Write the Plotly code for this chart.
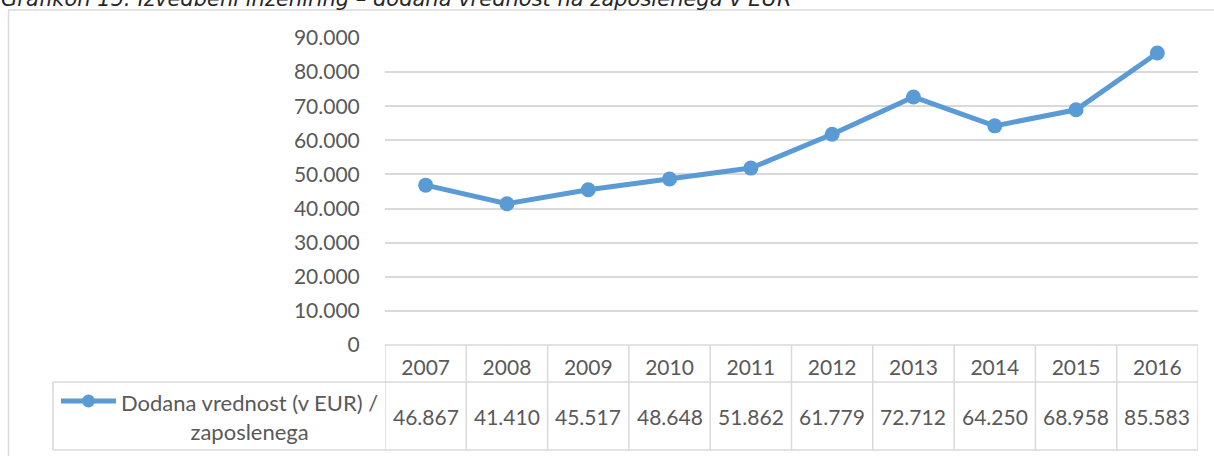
import plotly.graph_objects as go

years = ["2007", "2008", "2009", "2010", "2011", "2012", "2013", "2014", "2015", "2016"]
values = [46867, 41410, 45517, 48648, 51862, 61779, 72712, 64250, 68958, 85583]
series_name = "Dodana vrednost (v EUR) /<br>zaposlenega"
title_text = "Grafikon 15: Izvedbeni inženiring – dodana vrednost na zaposlenega v EUR"
y_ticks = [0, 10000, 20000, 30000, 40000, 50000, 60000, 70000, 80000, 90000]

W, H = 1214, 456
L, R, T, B = 385, 16, 38, 111
PW, PH = W - L - R, H - T - B

BLUE = "#5B9BD5"
TXT = "#595959"
GRID = "#D9D9D9"
FONT = "Lato"
FS = 21


def fmt(v):
    return f"{v:,}".replace(",", ".")


def px_x(p):
    return (p - L) / PW


def px_y(p):
    return (H - B - p) / PH


fig = go.Figure()
fig.add_trace(go.Scatter(
    x=years, y=values, mode="lines+markers", name=series_name,
    line=dict(color=BLUE, width=5),
    marker=dict(color=BLUE, size=15),
    showlegend=False, cliponaxis=False,
))

shapes = []
# table lines
row1 = px_y(382)
row2 = px_y(450)
for i in range(len(years) + 1):
    shapes.append(dict(type="line", xref="x", yref="paper", x0=i - 0.5, x1=i - 0.5,
                       y0=0, y1=row2, line=dict(color=GRID, width=1.5)))
shapes.append(dict(type="line", xref="paper", yref="paper", x0=0, x1=1, y0=0, y1=0,
                   line=dict(color=GRID, width=1.5)))
for yy in (row1, row2):
    shapes.append(dict(type="line", xref="paper", yref="paper", x0=px_x(53), x1=1, y0=yy, y1=yy,
                       line=dict(color=GRID, width=1.5)))
shapes.append(dict(type="line", xref="paper", yref="paper", x0=px_x(53), x1=px_x(53), y0=row1, y1=row2,
                   line=dict(color=GRID, width=1.5)))
# outer frame
shapes.append(dict(type="path", xref="paper", yref="paper",
                   path=f"M {px_x(8.5)} {px_y(470)} L {px_x(8.5)} {px_y(10)} L {px_x(1230)} {px_y(10)}",
                   line=dict(color=GRID, width=1.5)))
# legend key
shapes.append(dict(type="line", xref="paper", yref="paper", x0=px_x(61), x1=px_x(116),
                   y0=px_y(401), y1=px_y(401), line=dict(color=BLUE, width=5)))
shapes.append(dict(type="circle", xref="paper", yref="paper", x0=px_x(82), x1=px_x(95),
                   y0=px_y(394.5), y1=px_y(407.5), fillcolor=BLUE, line=dict(color=BLUE, width=0)))

annotations = []
for i, v in enumerate(values):
    annotations.append(dict(x=i, xref="x", y=px_y(416), yref="paper", text=fmt(v),
                            showarrow=False, font=dict(family=FONT, size=FS, color=TXT),
                            xanchor="center", yanchor="middle"))
annotations.append(dict(x=px_x(249), xref="paper", y=px_y(417), yref="paper", text=series_name,
                        showarrow=False, align="center", font=dict(family=FONT, size=22, color=TXT),
                        xanchor="center", yanchor="middle"))
annotations.append(dict(x=px_x(-1), xref="paper", y=px_y(-0.5), yref="paper", text=f"<i>{title_text}</i>",
                        showarrow=False, font=dict(family="DejaVu Sans", size=21, color="#262626"),
                        xanchor="left", yanchor="middle"))

fig.update_layout(
    width=W, height=H,
    margin=dict(l=L, r=R, t=T, b=B, autoexpand=False),
    paper_bgcolor="white", plot_bgcolor="white",
    separators=",.",
    font=dict(family=FONT, size=FS, color=TXT),
    shapes=shapes, annotations=annotations,
    xaxis=dict(type="category", range=[-0.5, len(years) - 0.5], showgrid=False, zeroline=False,
               showline=False, ticks="outside", ticklen=4, tickcolor="rgba(0,0,0,0)",
               tickfont=dict(family=FONT, size=FS, color=TXT), fixedrange=True),
    yaxis=dict(range=[0, 90000], tickvals=y_ticks, ticktext=[fmt(v) for v in y_ticks],
               showgrid=True, gridcolor=GRID, gridwidth=1.5, zeroline=False, showline=False,
               ticks="outside", ticklen=20, tickcolor="rgba(0,0,0,0)",
               tickfont=dict(family=FONT, size=FS, color=TXT), fixedrange=True),
)

fig.write_html("out.html")
